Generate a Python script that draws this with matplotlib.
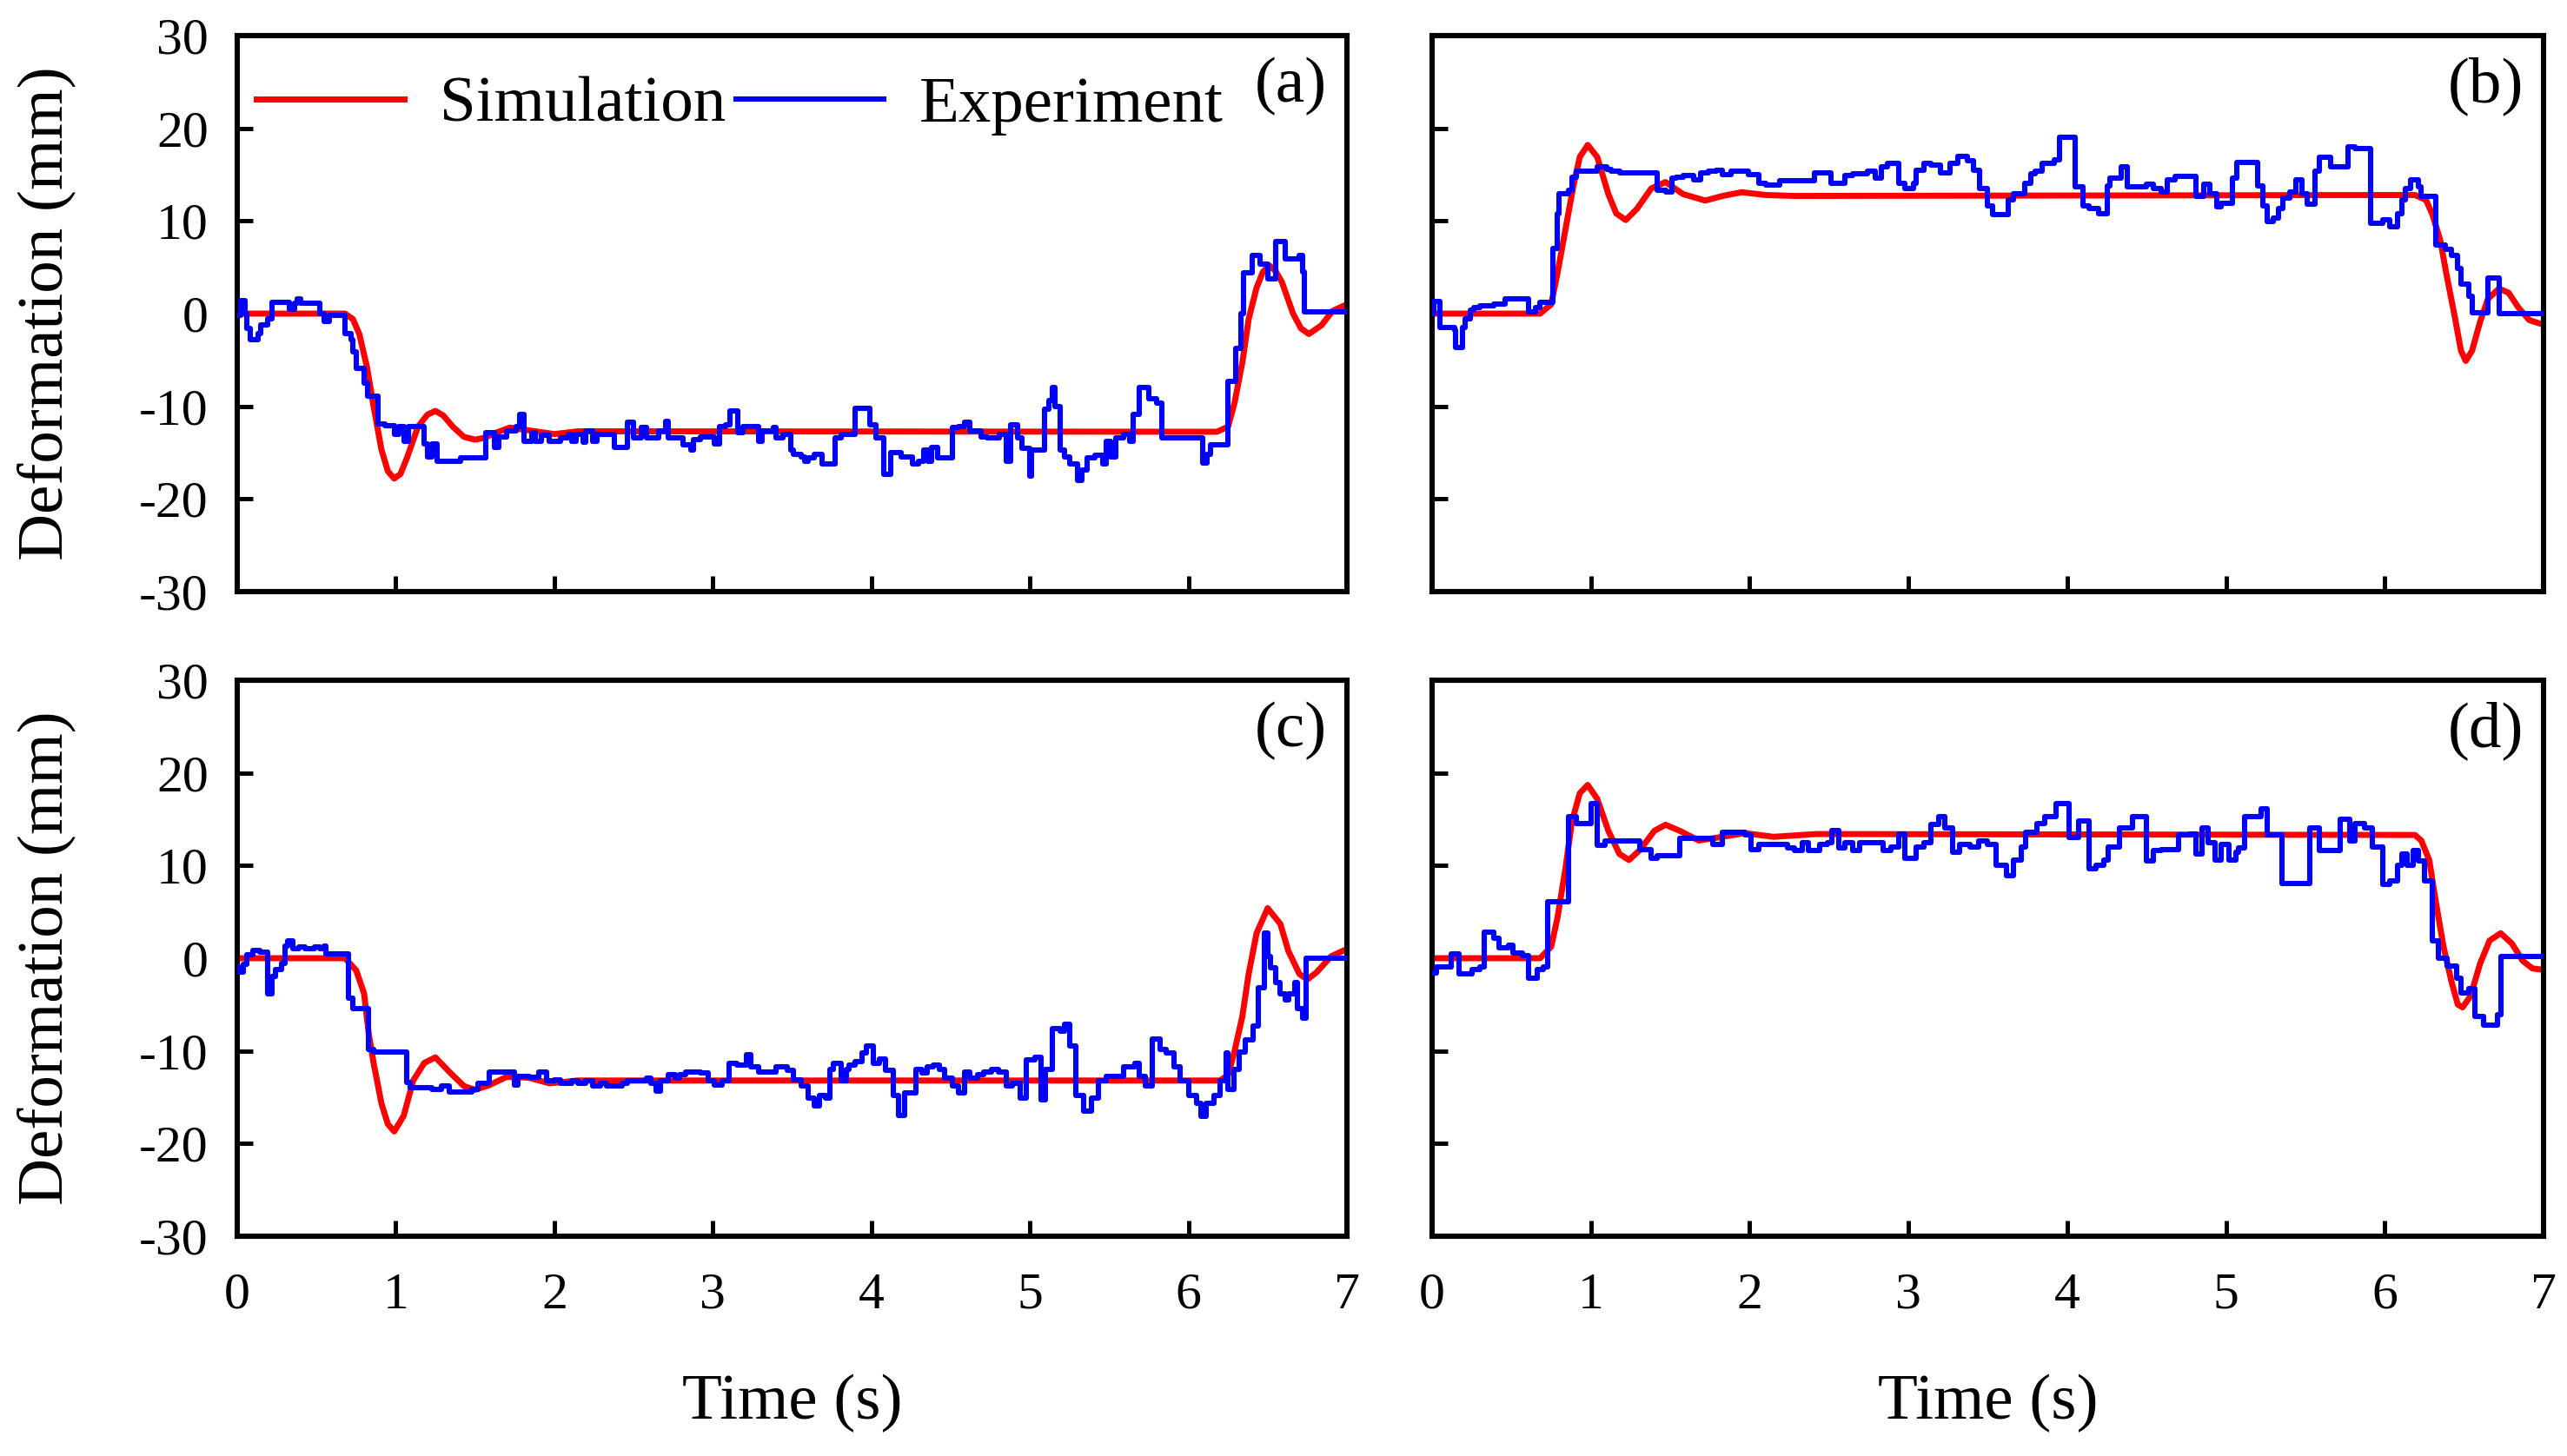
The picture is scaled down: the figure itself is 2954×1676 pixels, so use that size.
import matplotlib
matplotlib.use('Agg')
import matplotlib.pyplot as plt

plt.rcParams['font.family'] = ['Liberation Serif', 'DejaVu Serif']
plt.rcParams['axes.unicode_minus'] = False

# ---- panel (a) ----
sim_a_t = [0, 0.68, 0.73, 0.77, 0.82, 0.86, 0.91, 0.95, 0.99, 1.03,
           1.07, 1.14, 1.20, 1.25, 1.30, 1.36, 1.43, 1.50, 1.56, 1.61,
           1.72, 1.80, 1.88, 2.00, 2.15, 6.18, 6.25, 6.29, 6.34, 6.38,
           6.43, 6.47, 6.51, 6.55, 6.59, 6.66, 6.71, 6.76, 6.84, 6.91, 7.0]
sim_a_v = [0, 0, -0.6, -2.2, -5.9, -10, -14.7, -17.0, -17.8, -17.3,
           -15.6, -12.2, -10.9, -10.5, -11.0, -12.2, -13.3, -13.6, -13.4, -13.0,
           -12.3, -12.5, -12.7, -13.0, -12.7, -12.75, -12.2, -9.7, -5.3, -0.6,
           2.8, 4.5, 5.2, 4.6, 3.4, 0.0, -1.6, -2.2, -1.25, 0.3, 1.0]

exp_a_t = [0, 0.02, 0.05, 0.06, 0.08, 0.13, 0.15, 0.19, 0.22, 0.33,
           0.36, 0.38, 0.40, 0.52, 0.55, 0.58, 0.68, 0.72, 0.73, 0.75,
           0.80, 0.82, 0.89, 0.93, 0.99, 1.02, 1.05, 1.08, 1.18, 1.20,
           1.23, 1.26, 1.41, 1.57, 1.62, 1.65, 1.70, 1.76, 1.78, 1.81,
           1.86, 1.88, 1.92, 1.97, 2.04, 2.09, 2.11, 2.14, 2.18, 2.20,
           2.24, 2.27, 2.38, 2.46, 2.50, 2.55, 2.58, 2.66, 2.70, 2.72,
           2.81, 2.86, 2.88, 2.92, 3.01, 3.04, 3.08, 3.11, 3.16, 3.19,
           3.29, 3.31, 3.38, 3.40, 3.44, 3.49, 3.51, 3.56, 3.58, 3.60,
           3.64, 3.69, 3.77, 3.81, 3.90, 3.99, 4.03, 4.08, 4.12, 4.19,
           4.26, 4.30, 4.33, 4.36, 4.38, 4.42, 4.51, 4.55, 4.59, 4.62,
           4.69, 4.73, 4.81, 4.85, 4.88, 4.92, 4.95, 5.00, 5.01, 5.09,
           5.12, 5.14, 5.16, 5.19, 5.22, 5.25, 5.30, 5.33, 5.36, 5.41,
           5.46, 5.48, 5.51, 5.54, 5.59, 5.63, 5.65, 5.69, 5.75, 5.80,
           5.83, 6.09, 6.12, 6.14, 6.25, 6.30, 6.33, 6.35, 6.40, 6.45,
           6.50, 6.55, 6.61, 6.70, 6.72, 6.73, 7.0]
exp_a_v = [-0.15, 1.4, 0, -1.6, -2.8, -2.2, -1.25, -0.6, 1.25, 0.5,
           1.1, 1.6, 1.1, 0, -0.8, -0.15, -2.2, -2.8, -4.1, -5.9,
           -7.5, -8.9, -11.9, -12.1, -13.0, -12.2, -13.75, -12.2, -14.1, -15.5,
           -14.1, -15.9, -15.6, -12.8, -14.4, -13.3, -12.7, -12.2, -10.9, -13.75,
           -12.8, -13.75, -13.1, -13.75, -13.4, -13.0, -13.75, -13.0, -13.9, -12.7,
           -13.75, -13.0, -14.4, -11.7, -13.4, -12.3, -13.4, -12.7, -11.6, -13.4,
           -14.2, -14.7, -13.6, -13.3, -14.1, -12.2, -12.0, -10.5, -12.8, -12.2,
           -13.75, -12.7, -12.25, -13.4, -13.0, -14.7, -15.2, -15.5, -15.9, -15.6,
           -15.2, -16.25, -13.4, -13.0, -10.2, -12.0, -13.4, -17.3, -15.0, -15.5,
           -16.25, -15.9, -14.7, -15.9, -14.4, -15.6, -12.3, -12.2, -11.7, -12.7,
           -13.3, -13.4, -13.0, -15.9, -12.0, -13.4, -14.5, -17.5, -14.7, -10.3,
           -9.4, -8.0, -10.0, -14.7, -15.5, -16.25, -18.0, -16.9, -15.6, -15.3,
           -16.25, -13.75, -15.5, -13.4, -13.0, -13.75, -10.9, -8.0, -9.2, -9.7,
           -13.4, -16.1, -15.2, -14.2, -7.3, -3.75, 0, 4.4, 6.25, 5.3,
           3.75, 7.8, 5.9, 6.25, 4.5, 0.15, 0.15]

# ---- panel (b) ----
sim_b_t = [0, 0.68, 0.75, 0.79, 0.84, 0.89, 0.93, 0.98, 1.04, 1.11,
           1.16, 1.22, 1.29, 1.38, 1.47, 1.58, 1.72, 1.83, 1.95, 2.10,
           2.28, 6.19, 6.26, 6.30, 6.35, 6.39, 6.44, 6.48, 6.51, 6.55,
           6.60, 6.65, 6.72, 6.78, 6.84, 6.91, 7.0]
sim_b_v = [0, 0, 1.0, 4.4, 9.1, 13.8, 16.9, 18.2, 16.9, 12.9,
           10.8, 10.1, 11.3, 13.5, 14.2, 12.9, 12.2, 12.7, 13.1, 12.8,
           12.7, 12.8, 12.25, 10.7, 7.9, 4.1, -0.25, -4.0, -5.1, -4.0,
           -0.9, 1.6, 2.7, 2.25, 0.7, -0.7, -1.2]

exp_b_t = [0, 0.01, 0.05, 0.14, 0.15, 0.19, 0.21, 0.24, 0.26, 0.30,
           0.39, 0.46, 0.61, 0.65, 0.68, 0.76, 0.79, 0.80, 0.86, 0.88,
           0.91, 1.04, 1.10, 1.13, 1.18, 1.42, 1.47, 1.51, 1.54, 1.58,
           1.65, 1.69, 1.74, 1.79, 1.83, 1.88, 1.93, 1.99, 2.06, 2.10,
           2.19, 2.41, 2.51, 2.60, 2.65, 2.74, 2.79, 2.83, 2.87, 2.94,
           2.98, 3.03, 3.05, 3.10, 3.14, 3.20, 3.26, 3.31, 3.37, 3.41,
           3.45, 3.50, 3.53, 3.63, 3.66, 3.73, 3.77, 3.80, 3.84, 3.92,
           3.95, 4.05, 4.10, 4.14, 4.20, 4.25, 4.27, 4.34, 4.38, 4.50,
           4.54, 4.59, 4.63, 4.68, 4.81, 4.86, 4.90, 4.94, 4.97, 5.04,
           5.07, 5.20, 5.23, 5.26, 5.30, 5.33, 5.36, 5.40, 5.44, 5.48,
           5.51, 5.56, 5.59, 5.66, 5.77, 5.81, 5.91, 5.99, 6.03, 6.08,
           6.11, 6.13, 6.16, 6.21, 6.23, 6.32, 6.38, 6.42, 6.46, 6.48,
           6.53, 6.55, 6.65, 6.72, 7.0]
exp_b_v = [0, 1.3, -1.5, -1.8, -3.7, -1.5, -0.6, 0.4, 0.7, 0.8,
           1.0, 1.6, 0.2, 0.7, 1.2, 7.0, 10.8, 12.9, 13.3, 14.75,
           15.4, 15.8, 15.6, 15.4, 15.2, 13.3, 13.1, 14.6, 14.75, 14.9,
           14.4, 15.2, 15.4, 15.5, 15.0, 15.4, 15.4, 15.0, 14.1, 13.9,
           14.3, 15.2, 14.1, 14.9, 15.1, 15.4, 14.6, 15.8, 16.2, 14.1,
           13.5, 14.1, 15.5, 16.2, 16.0, 15.2, 16.2, 17.0, 16.5, 15.5,
           13.5, 11.6, 10.7, 12.25, 12.9, 14.1, 15.1, 15.4, 16.2, 16.6,
           19.0, 13.7, 11.6, 11.3, 10.8, 13.8, 14.6, 15.8, 13.7, 14.0,
           13.5, 13.1, 14.4, 14.8, 12.7, 14.0, 12.9, 11.5, 11.9, 14.6,
           16.3, 13.8, 11.6, 9.9, 10.3, 11.3, 12.5, 13.1, 14.4, 12.9,
           11.8, 15.4, 16.9, 15.8, 18.0, 17.8, 9.75, 10.1, 9.4, 10.8,
           12.25, 13.5, 14.4, 13.7, 12.7, 7.4, 6.9, 6.3, 4.9, 3.2,
           1.9, 0.1, 3.8, 0, 0]

# ---- panel (c) ----
sim_c_t = [0, 0.68, 0.75, 0.80, 0.83, 0.86, 0.91, 0.95, 0.99, 1.05,
           1.11, 1.18, 1.25, 1.34, 1.43, 1.50, 1.59, 1.70, 1.84, 1.97,
           2.15, 6.20, 6.25, 6.29, 6.34, 6.38, 6.43, 6.50, 6.58, 6.63,
           6.70, 6.75, 6.81, 6.90, 7.0]
sim_c_v = [0, 0, -1.3, -3.8, -8.2, -11.3, -15.7, -17.9, -18.7, -17.0,
           -13.2, -11.3, -10.7, -12.3, -13.8, -14.2, -13.7, -12.8, -12.9, -13.5,
           -13.2, -13.2, -12.6, -10.1, -6.3, -1.7, 2.7, 5.4, 3.7, 0.8,
           -1.7, -2.3, -1.5, 0.2, 1.0]

exp_c_t = [0, 0.01, 0.04, 0.06, 0.10, 0.14, 0.19, 0.22, 0.24, 0.28,
           0.30, 0.32, 0.35, 0.39, 0.43, 0.49, 0.52, 0.55, 0.56, 0.70,
           0.73, 0.83, 0.86, 1.07, 1.09, 1.16, 1.23, 1.29, 1.34, 1.48,
           1.52, 1.59, 1.75, 1.77, 1.84, 1.90, 1.95, 2.00, 2.04, 2.11,
           2.15, 2.20, 2.24, 2.29, 2.33, 2.43, 2.46, 2.58, 2.61, 2.64,
           2.67, 2.72, 2.76, 2.79, 2.83, 2.92, 2.97, 3.01, 3.06, 3.10,
           3.15, 3.21, 3.24, 3.29, 3.35, 3.40, 3.47, 3.51, 3.56, 3.60,
           3.64, 3.67, 3.71, 3.74, 3.76, 3.81, 3.84, 3.86, 3.90, 3.94,
           3.97, 4.01, 4.05, 4.09, 4.14, 4.17, 4.21, 4.28, 4.32, 4.35,
           4.39, 4.43, 4.46, 4.51, 4.55, 4.59, 4.62, 4.67, 4.71, 4.76,
           4.80, 4.85, 4.89, 4.94, 4.98, 5.03, 5.07, 5.10, 5.14, 5.19,
           5.22, 5.25, 5.29, 5.34, 5.39, 5.43, 5.48, 5.55, 5.59, 5.66,
           5.69, 5.73, 5.77, 5.82, 5.86, 5.91, 5.95, 6.00, 6.05, 6.08,
           6.11, 6.16, 6.20, 6.24, 6.25, 6.29, 6.32, 6.36, 6.41, 6.44,
           6.48, 6.50, 6.52, 6.55, 6.58, 6.61, 6.63, 6.67, 6.69, 6.72,
           6.74, 7.0]
exp_c_v = [-0.9, -1.5, -0.7, 0.4, 0.8, 0.7, -3.8, -2.0, -1.2, -0.6,
           1.3, 1.9, 1.0, 1.2, 1.0, 1.2, 1.0, 1.3, 0.5, -4.3,
           -5.4, -9.8, -10.1, -13.4, -14.0, -14.0, -14.2, -13.8, -14.4, -14.2,
           -13.5, -12.3, -13.7, -12.75, -12.8, -12.3, -13.2, -13.1, -13.5, -13.2,
           -13.5, -13.2, -13.8, -13.5, -13.8, -13.5, -13.2, -12.9, -13.5, -14.3,
           -13.2, -12.6, -12.9, -12.6, -12.3, -12.4, -13.2, -13.7, -13.2, -11.3,
           -11.5, -10.4, -11.7, -12.3, -12.3, -11.7, -12.1, -13.1, -13.8, -15.1,
           -15.9, -14.8, -15.1, -12.0, -11.3, -13.2, -12.0, -11.5, -11.2, -10.25,
           -9.5, -11.3, -10.9, -12.1, -14.8, -17.0, -14.5, -12.0, -12.4, -11.7,
           -11.5, -12.0, -12.9, -13.8, -14.5, -12.3, -12.9, -12.6, -12.3, -12.0,
           -12.3, -13.8, -13.5, -15.1, -11.0, -10.7, -15.25, -12.0, -7.6, -7.9,
           -7.1, -9.5, -14.8, -16.5, -15.1, -13.2, -12.75, -12.75, -11.7, -11.3,
           -12.75, -13.8, -8.7, -9.8, -10.25, -11.7, -13.2, -14.8, -15.7, -17.1,
           -15.7, -14.8, -13.2, -10.25, -14.2, -12.0, -10.1, -8.8, -7.3, -3.2,
           2.7, 0.2, -1.0, -2.6, -3.8, -4.5, -3.8, -2.6, -5.4, -6.5,
           0.0, 0.0]

# ---- panel (d) ----
sim_d_t = [0, 0.68, 0.75, 0.79, 0.84, 0.88, 0.93, 0.98, 1.04, 1.11,
           1.18, 1.24, 1.31, 1.40, 1.47, 1.56, 1.68, 1.79, 1.97, 2.15,
           2.42, 6.19, 6.23, 6.28, 6.32, 6.37, 6.42, 6.46, 6.49, 6.54,
           6.60, 6.66, 6.73, 6.80, 6.87, 6.93, 7.0]
sim_d_v = [0, 0, 1.25, 4.4, 9.7, 14.7, 17.8, 18.7, 17.2, 13.75,
           11.25, 10.6, 11.7, 13.75, 14.4, 13.75, 12.7, 13.0, 13.5, 13.1,
           13.4, 13.3, 12.7, 10.6, 6.25, 1.25, -2.5, -5.0, -5.3, -4.1,
           -0.6, 1.9, 2.7, 1.6, -0.3, -1.1, -1.25]

exp_d_t = [0, 0.03, 0.12, 0.17, 0.25, 0.30, 0.33, 0.39, 0.42, 0.48,
           0.51, 0.57, 0.61, 0.66, 0.70, 0.73, 0.86, 0.91, 1.00, 1.04,
           1.09, 1.31, 1.38, 1.42, 1.56, 1.77, 1.83, 1.97, 2.01, 2.06,
           2.24, 2.28, 2.33, 2.37, 2.44, 2.49, 2.52, 2.56, 2.60, 2.65,
           2.69, 2.84, 2.89, 2.94, 2.98, 3.05, 3.10, 3.14, 3.19, 3.23,
           3.28, 3.32, 3.39, 3.44, 3.50, 3.55, 3.62, 3.66, 3.71, 3.74,
           3.81, 3.86, 3.93, 4.01, 4.07, 4.14, 4.18, 4.23, 4.26, 4.33,
           4.41, 4.50, 4.54, 4.59, 4.70, 4.77, 4.81, 4.85, 4.89, 4.93,
           4.97, 5.02, 5.06, 5.08, 5.12, 5.22, 5.26, 5.35, 5.53, 5.59,
           5.72, 5.78, 5.81, 5.87, 5.92, 5.99, 6.03, 6.08, 6.11, 6.14,
           6.18, 6.21, 6.25, 6.30, 6.34, 6.39, 6.45, 6.48, 6.53, 6.57,
           6.62, 6.71, 6.73, 7.0]
exp_d_v = [-1.6, -0.9, 0.5, -1.7, -1.25, -0.9, 2.8, 2.2, 1.1, 1.4,
           0.6, 0.3, -2.2, -1.25, -0.9, 6.1, 15.3, 14.5, 16.7, 12.2,
           12.7, 11.7, 10.8, 11.1, 12.9, 12.3, 13.6, 13.3, 11.7, 12.3,
           11.9, 11.6, 12.5, 11.6, 12.3, 12.5, 13.75, 11.9, 12.5, 11.6,
           12.5, 11.6, 12.0, 13.4, 10.8, 12.0, 12.5, 14.4, 15.3, 14.1,
           11.4, 12.3, 12.0, 12.7, 12.3, 10.0, 8.9, 10.6, 12.0, 13.6,
           14.5, 15.3, 16.7, 13.0, 14.8, 9.7, 10.0, 10.6, 12.0, 14.1,
           15.3, 10.5, 11.6, 11.7, 13.3, 13.4, 11.25, 14.1, 12.5, 10.6,
           12.3, 10.6, 11.4, 11.9, 15.3, 16.1, 13.3, 8.1, 14.1, 11.6,
           15.0, 12.7, 14.5, 14.1, 12.0, 8.0, 8.3, 10.0, 11.25, 10.0,
           11.6, 10.5, 8.3, 1.9, 0.0, -0.8, -2.2, -3.75, -3.3, -6.25,
           -7.2, -6.1, 0.15, 0.15]

panels = [
    ('(a)', sim_a_t, sim_a_v, exp_a_t, exp_a_v),
    ('(b)', sim_b_t, sim_b_v, exp_b_t, exp_b_v),
    ('(c)', sim_c_t, sim_c_v, exp_c_t, exp_c_v),
    ('(d)', sim_d_t, sim_d_v, exp_d_t, exp_d_v),
]

W, H = 2954, 1676
fig = plt.figure(figsize=(W / 200, H / 200), dpi=200)

# axes boxes in pixels (left/right per column, top/bottom per row)
lefts = [273, 1648]
rights = [1550, 2927]
tops = [41, 783]
bottoms = [681, 1423]

for i, (tag, st, sv, et, ev) in enumerate(panels):
    row, col = divmod(i, 2)
    l, r = lefts[col], rights[col]
    t, b = tops[row], bottoms[row]
    ax = fig.add_axes([l / W, 1 - b / H, (r - l) / W, (b - t) / H])

    ax.plot(st, sv, color='#ff0000', lw=2.5, label='Simulation', zorder=2)
    ax.plot(et, ev, color='#0000ff', lw=2.2, drawstyle='steps-post',
            label='Experiment', zorder=3)

    ax.set_xlim(0, 7)
    ax.set_ylim(-30, 30)
    ax.set_xticks(range(0, 8))
    ax.set_yticks(range(-30, 31, 10))
    ax.tick_params(direction='in', length=6.5, width=1.8, labelsize=21.5,
                   top=False, right=False)
    ax.tick_params(axis='y', pad=12)
    ax.tick_params(axis='x', pad=15)
    for s in ax.spines.values():
        s.set_linewidth(2.2)

    if col == 0:
        ax.set_ylabel('Deformation (mm)', fontsize=27)
        ax.yaxis.set_label_coords(-0.172, 0.5)
        ax.yaxis.label.set_va('center')
    else:
        ax.tick_params(axis='y', labelleft=False)
    if row == 0:
        ax.tick_params(axis='x', labelbottom=False)
    else:
        ax.set_xlabel('Time (s)', fontsize=27)
        ax.xaxis.set_label_coords(0.5, -0.30)
        ax.xaxis.label.set_va('center')

    ax.text(0.982, 0.962, tag, transform=ax.transAxes, ha='right', va='top',
            fontsize=27)

    if i == 0:
        ax.legend(loc='center left', bbox_to_anchor=(0.017, 0.874), ncol=2,
                  frameon=False, fontsize=27, borderpad=0, borderaxespad=0,
                  handlelength=2.27, handletextpad=0.55, columnspacing=0.15)

fig.savefig('out.png', dpi=200)
